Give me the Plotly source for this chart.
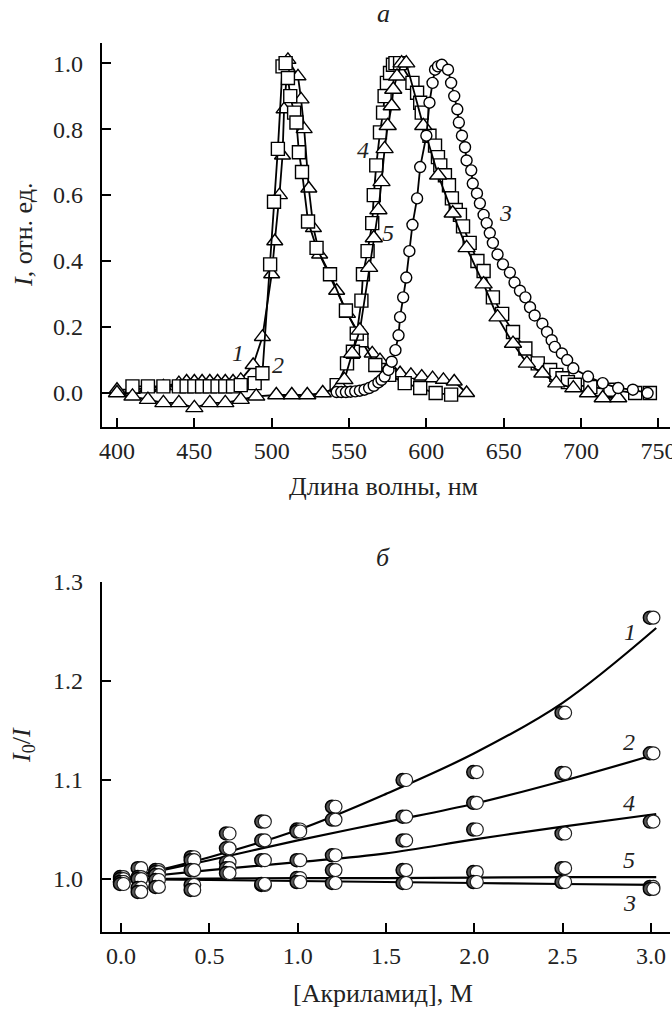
import plotly.graph_objects as go

# ---------------- Panel a: emission spectra ----------------
wl1 = [400, 410, 420, 430, 440, 445, 450, 455, 460, 465, 470, 475, 480, 488, 494, 500, 502, 505, 507,
       508, 510.5, 517, 519, 521, 524, 527, 531, 542, 549, 557, 565, 570, 576, 583, 590, 597, 604,
       611, 618, 626]
I1 = [0.01, 0.01, 0.015, 0.02, 0.03, 0.035, 0.035, 0.035, 0.035, 0.035, 0.035, 0.035, 0.04, 0.085,
      0.17, 0.36, 0.46, 0.60, 0.72, 0.86, 1.01, 0.96, 0.89, 0.80, 0.62, 0.50, 0.42, 0.31, 0.24, 0.175,
      0.12, 0.10, 0.08, 0.06, 0.055, 0.05, 0.045, 0.04, 0.035, 0.0]

wl2 = [410, 420, 430, 440, 445, 450, 455, 460, 465, 470, 475, 480, 489, 494, 499, 501.5, 504, 507,
       509, 510.5, 512, 514.5, 516, 517.6, 519.6, 523.5, 529, 537.7, 548, 558, 567, 576, 586, 596,
       606, 616]
I2 = [0.02, 0.02, 0.02, 0.02, 0.02, 0.02, 0.02, 0.02, 0.02, 0.02, 0.02, 0.024, 0.03, 0.06, 0.39,
      0.58, 0.74, 0.99, 1.0, 0.955, 0.90, 0.85, 0.82, 0.73, 0.67, 0.52, 0.44, 0.36, 0.25, 0.16, 0.085,
      0.055, 0.03, 0.015, 0.0, -0.005]

wl3 = [542, 545, 548, 551, 554, 557, 560, 563, 566, 569, 571, 573, 575.5, 577.6, 580, 582, 583, 585,
       587, 589, 591, 594, 596, 600, 602, 604, 605.6, 607.5, 610, 614, 616, 618, 620, 621, 623, 625,
       626, 629, 630, 632.7, 634.6, 637, 639, 641, 643, 646, 649.5, 654, 657, 660.5, 664, 667, 670,
       675, 678, 681, 683, 687.6, 691, 695, 704.5, 714, 724, 733.5, 743]
I3 = [0.003, 0.003, 0.003, 0.004, 0.005, 0.007, 0.01, 0.015, 0.022, 0.032, 0.04, 0.05, 0.07, 0.095,
      0.13, 0.175, 0.23, 0.29, 0.35, 0.43, 0.51, 0.59, 0.685, 0.78, 0.88, 0.94, 0.98, 0.99, 0.995,
      0.98, 0.94, 0.90, 0.86, 0.82, 0.78, 0.745, 0.705, 0.675, 0.635, 0.605, 0.575, 0.54, 0.515,
      0.485, 0.455, 0.42, 0.39, 0.365, 0.335, 0.31, 0.29, 0.26, 0.235, 0.21, 0.185, 0.16, 0.14, 0.12,
      0.10, 0.075, 0.05, 0.03, 0.015, 0.01, 0.0]

wl4 = [542, 548.7, 552.5, 555, 558, 559, 562, 565, 566, 567.6, 570, 572, 573, 574.5, 576.5, 578.4,
       580, 583, 591, 594, 596, 597, 602, 605.6, 607.5, 609, 612, 614.6, 616.5, 619, 621.7, 623.7,
       628, 633, 637, 643, 649, 656, 664, 672, 680, 684, 688, 691.5, 696, 706, 719, 735, 744.5]
I4 = [0.024, 0.09, 0.125, 0.18, 0.28, 0.36, 0.43, 0.515, 0.60, 0.69, 0.79, 0.85, 0.90, 0.94, 0.97,
      0.995, 1.0, 1.0, 0.94, 0.91, 0.88, 0.85, 0.78, 0.75, 0.715, 0.69, 0.66, 0.63, 0.59, 0.555,
      0.54, 0.505, 0.455, 0.40, 0.37, 0.29, 0.24, 0.185, 0.135, 0.09, 0.07, 0.055, 0.045, 0.033,
      0.025, 0.018, 0.01, 0.0, 0.0]

wl5 = [400, 410, 420, 430, 440, 450, 460, 470, 480, 490, 503, 513, 523, 533, 544, 547, 552, 557, 563,
       566, 569, 571, 573, 575, 577.6, 578.6, 581, 584, 587, 598, 607.6, 617, 626, 637, 646, 656, 665,
       675, 684, 695, 704.5, 714, 724]
I5 = [0.0, -0.01, -0.02, -0.03, -0.03, -0.045, -0.03, -0.03, -0.02, -0.01, -0.006, -0.006, -0.006,
      0.0, 0.02, 0.04, 0.12, 0.19, 0.38, 0.47, 0.555, 0.64, 0.74, 0.81, 0.87, 0.92, 0.96, 1.0, 1.0,
      0.81, 0.66, 0.545, 0.44, 0.33, 0.23, 0.15, 0.09, 0.06, 0.03, 0.015, 0.0, -0.015, -0.015]

top_xticks = [400, 450, 500, 550, 600, 650, 700, 750]
top_yticks = [0.0, 0.2, 0.4, 0.6, 0.8, 1.0]
top_labels = ["1", "2", "3", "4", "5"]
top_label_x = [478, 504, 651, 559, 575]
top_label_y = [0.121, 0.085, 0.545, 0.736, 0.485]

# ---------------- Panel б: Stern-Volmer plots ----------------
conc = [0.0, 0.1, 0.2, 0.4, 0.6, 0.8, 1.0, 1.2, 1.6, 2.0, 2.5, 3.0]
sv1 = [1.002, 1.011, 1.009, 1.022, 1.046, 1.058, 1.050, 1.073, 1.100, 1.108, 1.168, 1.264]
sv2 = [1.000, 1.002, 1.007, 1.019, 1.031, 1.039, 1.048, 1.060, 1.063, 1.077, 1.107, 1.127]
sv4 = [0.997, 1.000, 1.004, 1.009, 1.017, 1.019, 1.019, 1.024, 1.039, 1.050, 1.046, 1.058]
sv5 = [0.997, 0.991, 0.999, 0.994, 1.011, 0.994, 1.001, 1.009, 1.009, 1.007, 1.011, 0.992]
sv3 = [0.995, 0.987, 0.992, 0.989, 1.006, 0.995, 0.997, 0.996, 0.996, 0.997, 0.997, 0.990]

fit_x = [0.0, 0.5, 1.0, 1.5, 2.0, 2.5, 3.03]
fit1 = [1.0, 1.022, 1.0495, 1.086, 1.127, 1.178, 1.2535]
fit2 = [1.0, 1.019, 1.039, 1.0575, 1.076, 1.099, 1.126]
fit4 = [1.0, 1.009, 1.017, 1.026, 1.040, 1.053, 1.0657]
fit5 = [1.0, 1.0005, 1.001, 1.001, 1.0015, 1.002, 1.002]
fit3 = [1.0, 0.999, 0.998, 0.997, 0.996, 0.995, 0.994]

bot_xticks = [0.0, 0.5, 1.0, 1.5, 2.0, 2.5, 3.0]
bot_yticks = [1.0, 1.1, 1.2, 1.3]
bot_labels = ["1", "2", "4", "5", "3"]
bot_label_x = [2.882, 2.877, 2.877, 2.877, 2.877]
bot_label_y = [1.2495, 1.138, 1.077, 1.019, 0.976]

# ---------------- Figure ----------------
W, H = 672, 1011
FONT = "Liberation Serif"
FS = 24
TITLE_FS = 26
fig = go.Figure()

def px_x(p):
    return p / W

def px_y(p):
    return 1 - p / H

line_style = dict(color="black", width=1.8)
spec_series = [
    (wl1, I1, "triangle-up", 14),
    (wl2, I2, "square", 13),
    (wl4, I4, "square", 13),
    (wl5, I5, "triangle-up", 15),
    (wl3, I3, "circle", 11),
]
for xs, ys, sym, sz in spec_series:
    fig.add_trace(go.Scatter(
        x=xs, y=ys, mode="lines+markers", xaxis="x", yaxis="y",
        line=line_style,
        marker=dict(symbol=sym, size=sz, color="white", line=dict(color="black", width=1.4)),
        showlegend=False, hoverinfo="skip"))

for fy in [fit1, fit2, fit4, fit5, fit3]:
    fig.add_trace(go.Scatter(
        x=fit_x, y=fy, mode="lines", xaxis="x2", yaxis="y2",
        line=dict(color="black", width=2.2, shape="spline"),
        showlegend=False, hoverinfo="skip"))

for sv in [sv1, sv2, sv4, sv5, sv3]:
    fig.add_trace(go.Scatter(
        x=[c - 0.006 for c in conc], y=sv, mode="markers", xaxis="x2", yaxis="y2",
        marker=dict(symbol="circle", size=13, color="#555555", line=dict(color="black", width=1.5)),
        showlegend=False, hoverinfo="skip"))
    fig.add_trace(go.Scatter(
        x=[c + 0.014 for c in conc], y=sv, mode="markers", xaxis="x2", yaxis="y2",
        marker=dict(symbol="circle", size=13, color="white", line=dict(color="#222222", width=1.2)),
        showlegend=False, hoverinfo="skip"))

axis_common = dict(
    showline=True, linecolor="black", linewidth=2.2, ticks="inside", ticklen=9,
    tickwidth=2, tickcolor="black", showgrid=False, zeroline=False, mirror=False,
    automargin=False, ticklabeloverflow="allow",
    tickfont=dict(family=FONT, size=FS, color="#222222"))

x_dom = [px_x(102), px_x(670)]
fig.update_layout(
    width=W, height=H, margin=dict(l=0, r=0, t=0, b=0),
    paper_bgcolor="white", plot_bgcolor="white", template="none",
    xaxis=dict(domain=x_dom, anchor="y", range=[390.3, 757.5], tickvals=top_xticks,
               ticklabelstandoff=1, **axis_common),
    yaxis=dict(domain=[px_y(427), px_y(43)], anchor="x", range=[-0.103, 1.061],
               tickvals=top_yticks, tickformat=".1f", ticklabelstandoff=12, **axis_common),
    xaxis2=dict(domain=x_dom, anchor="y2", range=[-0.108, 3.108], tickvals=bot_xticks,
                tickformat=".1f", ticklabelstandoff=1, **axis_common),
    yaxis2=dict(domain=[px_y(932), px_y(582)], anchor="x2", range=[0.9465, 1.3],
                tickvals=bot_yticks, tickformat=".1f", ticklabelstandoff=12, **axis_common),
)

anns = []
tf = dict(family=FONT, size=FS, color="#222222")
tt = dict(family=FONT, size=TITLE_FS, color="#222222")
cm = dict(xanchor="center", yanchor="middle", showarrow=False, borderpad=0)
for t, lx, ly in zip(top_labels, top_label_x, top_label_y):
    anns.append(dict(text="<i>" + t + "</i>", x=lx, y=ly, xref="x", yref="y", font=tf, **cm))
for t, lx, ly in zip(bot_labels, bot_label_x, bot_label_y):
    anns.append(dict(text="<i>" + t + "</i>", x=lx, y=ly, xref="x2", yref="y2", font=tf, **cm))

anns += [
    dict(text="<i>а</i>", x=px_x(383), y=px_y(14), xref="paper", yref="paper", font=tt, **cm),
    dict(text="<i>б</i>", x=px_x(383), y=px_y(557), xref="paper", yref="paper", font=tt, **cm),
    dict(text="Длина волны, нм", x=px_x(383), y=px_y(487), xref="paper", yref="paper", font=tt, **cm),
    dict(text="[Акриламид], М", x=px_x(383), y=px_y(993), xref="paper", yref="paper", font=tt, **cm),
    dict(text="<i>I</i>, отн. ед.", x=px_x(23), y=px_y(235), xref="paper", yref="paper",
         textangle=-90, font=tt, **cm),
    dict(text="<i>I</i><sub>0</sub>/<i>I</i>", x=px_x(23), y=px_y(745), xref="paper", yref="paper",
         textangle=-90, font=tt, **cm),
]
fig.update_layout(annotations=anns)

fig.write_html("out.html")
